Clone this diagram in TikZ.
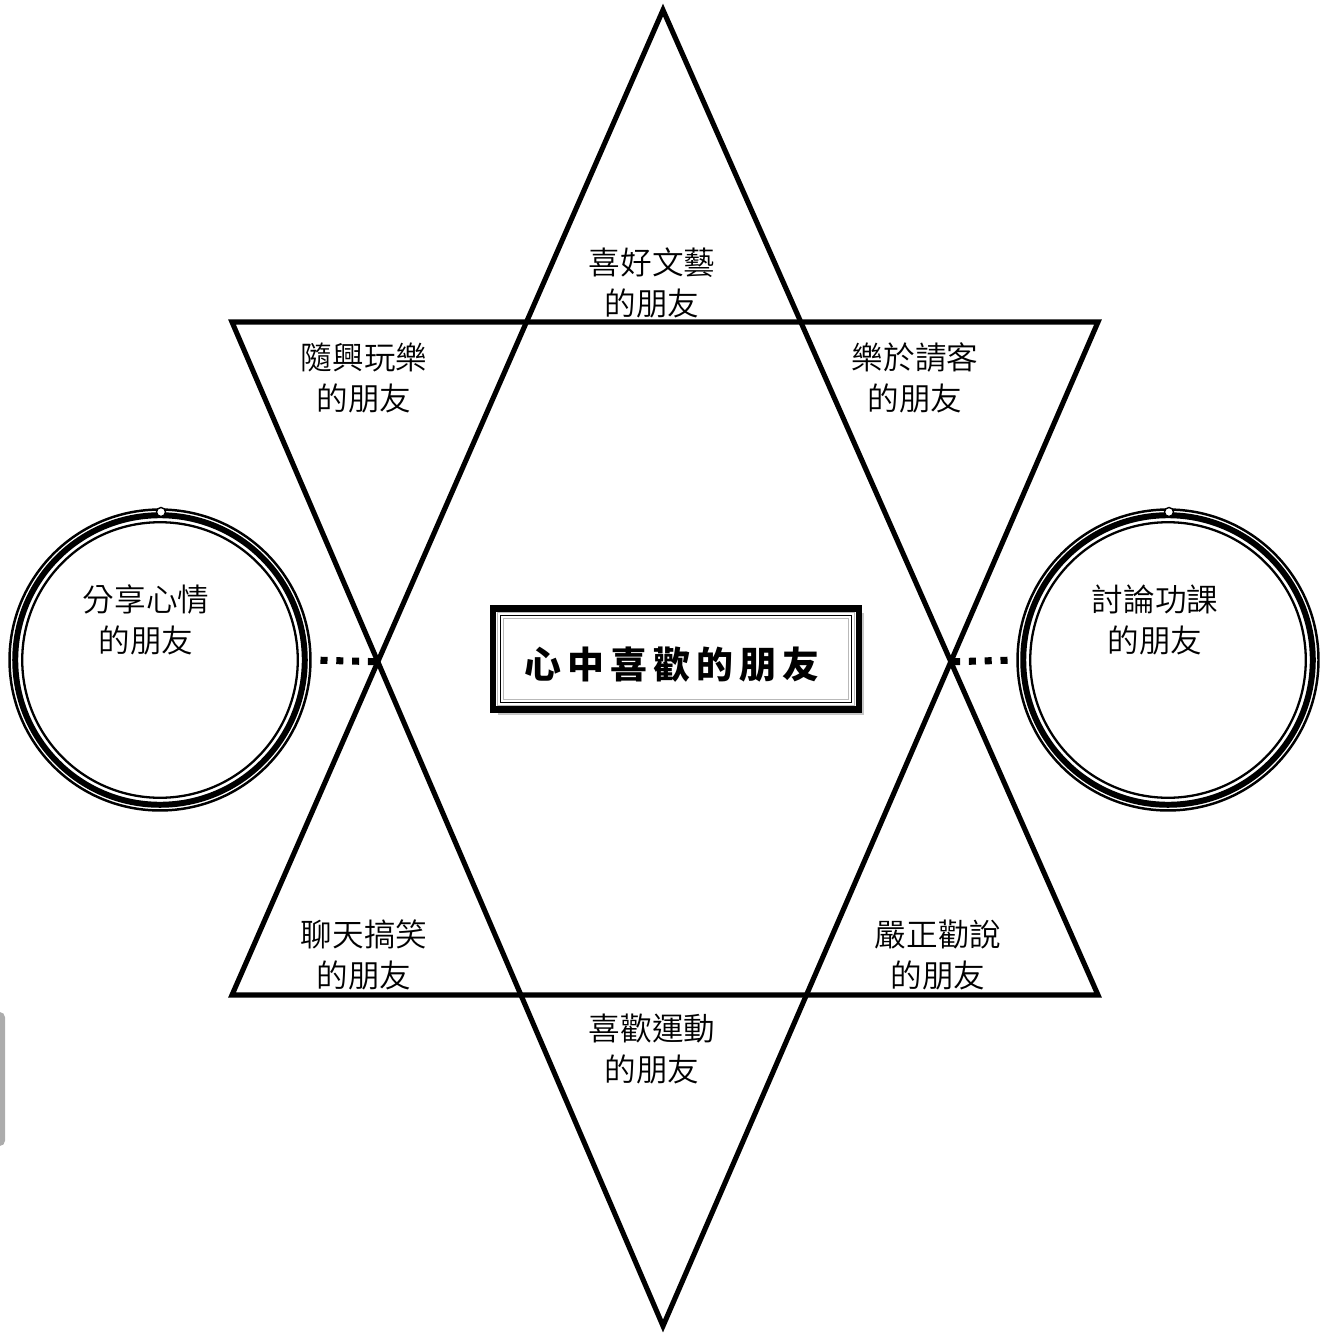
\documentclass[tikz,border=0pt]{standalone}
\usepackage{fontspec}
\newfontfamily\cinese{Noto Sans CJK TC}[UprightFont={* DemiLight}]
\newfontfamily\cinesetitolo{Noto Sans CJK TC}
\usetikzlibrary{calc}
\newcommand\spaziotitolo{\hspace{3.5pt}}

\begin{document}
\begin{tikzpicture}[
    x=0.02cm, y=-0.02cm,
    stella/.style    = {line width=2.9pt, line join=miter},
    anello/.style    = {circle, draw, line width=1.4pt, minimum size=6.02cm, inner sep=0pt},
    sottile/.style   = {line width=1.3pt},
    spesso/.style    = {line width=3.4pt},
    puntini/.style   = {line width=4pt, dash pattern=on 4pt off 5pt, dash phase=4pt},
    cornice/.style   = {draw, fill=white, line width=3.7pt, outer sep=0pt,
                        minimum width=7.32cm, minimum height=2.03cm,
                        preaction={draw=none, fill=gray!45, transform canvas={shift={(0.1cm,-0.1cm)}}}},
    titolo/.style    = {font=\cinesetitolo\bfseries\fontsize{21}{25}\selectfont, inner sep=0pt},
    etichetta/.style = {font=\cinese\fontsize{18}{23}\selectfont, align=center, inner sep=0pt}
]
\useasboundingbox (0,0) rectangle (1328,1334);

% ---- stella a sei punte ----
\coordinate (A) at (663,10);
\coordinate (B) at (232,995);
\coordinate (C) at (1098,995);
\coordinate (D) at (232,322);
\coordinate (E) at (1098,322);
\coordinate (F) at (663,1326);
\draw[stella] (A) -- (B) -- (C) -- cycle;
\draw[stella] (D) -- (E) -- (F) -- cycle;
\coordinate (lx) at (intersection of A--B and D--F);
\coordinate (rx) at (intersection of A--C and E--F);

% ---- anelli laterali ----
\node[anello] (anellosx) at (160,660) {};
\node[anello] (anellodx) at (1168,660) {};
\foreach \n in {anellosx,anellodx}{
    \draw[spesso]  (\n.center) circle[radius=2.896cm];
    \draw[sottile] (\n.center) circle[radius=2.756cm];
    \draw[line width=0.8pt, fill=white] ($(\n.center)+(1,-148)$) circle[radius=0.09cm];
}

% ---- collegamenti a puntini ----
\draw[puntini] (anellosx.east) -- (lx);
\draw[puntini] (anellodx.west) -- (rx);

% ---- riquadro centrale ----
\node[cornice] (centro) at (676,659) {};
\draw[gray!55, line width=0.8pt] ($(centro.north west)+(4.5,4.5)$) rectangle ($(centro.south east)+(-4.5,-4.5)$);
\draw[line width=0.7pt] ($(centro.north west)+(7.5,7.5)$) rectangle ($(centro.south east)+(-7.5,-7.5)$);
\draw[gray!55, line width=0.8pt] ($(centro.north west)+(10.5,10.5)$) rectangle ($(centro.south east)+(-10.5,-10.5)$);
\node[titolo] (testo) at (672,665)
    {心\spaziotitolo 中\spaziotitolo 喜\spaziotitolo 歡\spaziotitolo 的\spaziotitolo 朋\spaziotitolo 友};

% ---- etichette ----
\node[etichetta] (arte)     at (652,283)  {喜好文藝\\的朋友};
\node[etichetta] (gioco)    at (364,378)  {隨興玩樂\\的朋友};
\node[etichetta] (ospite)   at (915,378)  {樂於請客\\的朋友};
\node[etichetta] (cuore)    at (146,620)  {分享心情\\的朋友};
\node[etichetta] (studio)   at (1155,620) {討論功課\\的朋友};
\node[etichetta] (scherzo)  at (364,955)  {聊天搞笑\\的朋友};
\node[etichetta] (consiglio) at (938,955) {嚴正勸說\\的朋友};
\node[etichetta] (sport)    at (652,1049) {喜歡運動\\的朋友};

% ---- barra grigia al bordo ----
\fill[gray!65, rounded corners=3pt] (-10,1012) rectangle (5,1146);

\end{tikzpicture}
\end{document}
